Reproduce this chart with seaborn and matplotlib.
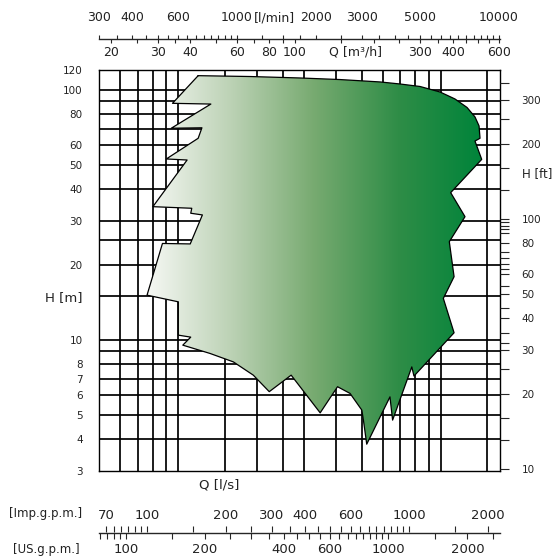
import numpy as np
import matplotlib.pyplot as plt
import seaborn as sns

sns.set_style("white")
plt.rcParams['font.family'] = ['DejaVu Sans']
TXT = '#222222'

# main field: flow in l/s, head in m
Q_MIN, Q_MAX = 5, 168
H_MIN, H_MAX = 3, 120

Q_GRID = [6, 7, 8, 9, 10, 15, 20, 25, 30, 40, 50, 60, 70, 80, 90, 100, 150]
H_GRID = [4, 5, 6, 7, 8, 9, 10, 15, 20, 25, 30, 40, 50, 60, 70, 80, 90, 100]
H_LABELS = [3, 4, 5, 6, 7, 8, 10, 20, 30, 40, 50, 60, 80, 100, 120]

# outline of the performance range
Q_FIELD = [11.9, 9.5, 13.3, 9.4, 12.3, 11.9, 9.0, 10.8, 8.0, 11.25, 11.15, 12.35,
           11.1, 8.7, 7.6, 10.0, 10.0, 11.15, 10.4, 13.2, 16.2, 19.3, 22.2, 26.9,
           34.7, 40.4, 45.1, 50.0, 50.7, 52.2, 64.0, 65.5, 77.5, 79.0, 112.3, 102.2,
           112.3, 107.7, 123.6, 109.0, 143.1, 134.9, 141.0, 139.8, 134.9, 125.8, 113.2,
           99.3, 83.3, 69.9, 58.7, 41.3, 29.1, 18.8]
H_FIELD = [113.9, 88.3, 87.7, 70.2, 70.5, 64.0, 52.9, 52.4, 34.1, 33.6, 32.1, 31.6,
           24.2, 24.3, 15.1, 14.2, 10.45, 10.26, 9.53, 8.83, 8.17, 7.23, 6.21, 7.23,
           5.11, 6.5, 6.11, 5.24, 4.78, 3.83, 5.92, 4.78, 7.80, 7.17, 10.68, 14.66,
           17.9, 24.7, 31.1, 38.8, 52.7, 62.4, 64.0, 71.7, 77.9, 85.0, 91.9,
           98.0, 103.1, 105.5, 107.5, 109.9, 111.5, 113.0]
FIELD_COLORS = ['#f6f8f4', '#bcd2b5', '#77aa70', '#2f8d47', '#00843a']

# head in feet (right)
FT_PER_M = 1 / 0.3048
FT_TICKS = [10, 13, 16, 20, 25, 30, 32, 35, 40, 44, 50, 54, 60, 63, 66, 70, 74, 80,
            88, 91, 94, 97, 100, 130, 160, 200, 250, 300, 350]
FT_LABELS = [10, 20, 30, 40, 50, 60, 80, 100, 200, 300]

# flow scales on top
MH_PER_LS = 3.6
MH_TICKS = [20, 25, 30, 35, 40, 50, 60, 70, 80, 90, 100, 150, 200, 250, 300, 350,
            400, 450, 500, 550, 600]
MH_LABELS = [20, 30, 40, 60, 80, 100, 300, 400, 600]
LPM_PER_LS = 60
LPM_TICKS = [300, 350, 400, 450, 500, 550, 600, 650, 700, 750, 800, 850, 900, 950,
             1000, 1250, 1500, 1750, 2000, 2500, 3000, 3500, 4000, 4500, 5000, 5500,
             6000, 6500, 7000, 7500, 8000, 8500, 9000, 9500, 10000]
LPM_LABELS = [300, 400, 600, 1000, 2000, 3000, 5000, 10000]

# flow scales at the bottom
IMP_PER_LS = 13.198
IMP_TICKS = [70, 75, 80, 85, 90, 95, 100, 150, 200, 250, 300, 350, 400, 450, 500,
             550, 600, 650, 700, 750, 800, 850, 900, 950, 1000, 1500, 2000]
IMP_LABELS = [70, 100, 200, 300, 400, 600, 1000, 2000]
US_PER_LS = 15.850
US_TICKS = [80, 85, 90, 95, 100, 150, 200, 250, 300, 350, 400, 450, 500, 550, 600,
            650, 700, 750, 800, 850, 900, 950, 1000, 1500, 2000, 2500]
US_LABELS = [100, 200, 400, 600, 1000, 2000]

W, H = 554, 557
fig = plt.figure(figsize=(W / 100, H / 100), dpi=100)
L, R, T, B = 99.3, 500, 70, 470.7
ax = fig.add_axes([L / W, 1 - B / H, (R - L) / W, (B - T) / H])
ax.set_xscale('log')
ax.set_yscale('log')
ax.set_xlim(Q_MIN, Q_MAX)
ax.set_ylim(H_MIN, H_MAX)

for q in Q_GRID:
    ax.axvline(q, color='black', lw=1.25, zorder=1)
for h in H_GRID:
    ax.axhline(h, color='black', lw=1.25, zorder=1)

# gradient filled field
poly = ax.fill(Q_FIELD, H_FIELD, facecolor='none', edgecolor='none')[0]
lo, hi = np.log10(Q_MIN), np.log10(Q_MAX)
x0 = (np.log10(min(Q_FIELD)) - lo) / (hi - lo)
x1 = (np.log10(max(Q_FIELD)) - lo) / (hi - lo)
cmap = sns.blend_palette(FIELD_COLORS, as_cmap=True)
im = ax.imshow(np.linspace(0, 1, 512)[None, :], cmap=cmap, aspect='auto',
               extent=(x0, x1, 0, 1), transform=ax.transAxes, zorder=2,
               interpolation='bilinear')
im.set_clip_path(poly)
sns.lineplot(x=Q_FIELD + Q_FIELD[:1], y=H_FIELD + H_FIELD[:1], sort=False,
             estimator=None, color='black', lw=0.9, ax=ax, zorder=3)
ax.set_xlim(Q_MIN, Q_MAX)
ax.set_ylim(H_MIN, H_MAX)

ax.set_xticks([])
ax.minorticks_off()
ax.set_yticks(H_LABELS, labels=[str(v) for v in H_LABELS])
ax.tick_params(axis='y', length=0, pad=12, labelsize=7.5, labelcolor=TXT)
for s in ax.spines.values():
    s.set_visible(True)
    s.set_color('black')
    s.set_linewidth(1.0)
ax.text(0.30, -0.036, 'Q [l/s]', transform=ax.transAxes, ha='center', va='center',
        fontsize=9.5, color=TXT)
ax.text(-0.043, 0.431, 'H [m]', transform=ax.transAxes, ha='right', va='center',
        fontsize=9.5, color=TXT)

# feet on the right
ax_r = ax.twinx()
ax_r.set_yscale('log')
ax_r.set_ylim(H_MIN * FT_PER_M, H_MAX * FT_PER_M)
ax_r.set_yticks(FT_TICKS, labels=[str(v) if v in FT_LABELS else '' for v in FT_TICKS])
ax_r.minorticks_off()
ax_r.tick_params(axis='y', direction='out', length=6.5, width=0.8, pad=9,
                 labelsize=7.5, labelcolor=TXT, right=True)
for s in ax_r.spines.values():
    s.set_visible(False)
ax_r.annotate('H [ft]', xy=(1, 152), xycoords=('axes fraction', 'data'),
              xytext=(15.5, 0), textcoords='offset points', ha='left', va='center',
              fontsize=8.5, color=TXT)


def flow_scale(y_px, factor, ticks, labels, side, length, pad, size=9.5):
    a = fig.add_axes([L / W, 1 - y_px / H, (R - L) / W, 0.0005])
    a.set_xscale('log')
    a.set_xlim(Q_MIN * factor, Q_MAX * factor)
    a.set_xticks(ticks, labels=[str(v) if v in labels else '' for v in ticks])
    a.minorticks_off()
    a.set_yticks([])
    a.patch.set_visible(False)
    a.tick_params(axis='x', direction='out', length=length, width=0.8, pad=pad,
                  labelsize=size, labelcolor=TXT,
                  top=(side == 'top'), labeltop=(side == 'top'),
                  bottom=(side == 'bottom'), labelbottom=(side == 'bottom'))
    for s in a.spines.values():
        s.set_visible(False)
    return a


ax_mh = flow_scale(39, MH_PER_LS, MH_TICKS, MH_LABELS, 'bottom', 3, 2.0, 9)
ax_mh.spines['bottom'].set_visible(True)
ax_mh.spines['bottom'].set_linewidth(1.0)
ax_lpm = flow_scale(39, LPM_PER_LS, LPM_TICKS, LPM_LABELS, 'top', 3, 7.5, 9)
ax_mh.annotate('Q [m\u00b3/h]', xy=(170, 0), xycoords=('data', 'axes fraction'),
               xytext=(0, -5.0), textcoords='offset points', ha='center', va='top',
               fontsize=9, color=TXT)
ax_lpm.annotate('[l/min]', xy=(1400, 1), xycoords=('data', 'axes fraction'),
                xytext=(0, 10.5), textcoords='offset points', ha='center',
                va='bottom', fontsize=9, color=TXT)

ax_us = flow_scale(532.7, US_PER_LS, US_TICKS, US_LABELS, 'bottom', 4, 3.3)
ax_us.spines['bottom'].set_visible(True)
ax_us.spines['bottom'].set_linewidth(1.0)
ax_imp = flow_scale(532.7, IMP_PER_LS, IMP_TICKS, IMP_LABELS, 'top', 4, 3.6)

fig.text(46 / W, 1 - 513 / H, '[Imp.g.p.m.]', ha='center', va='center',
         fontsize=8.5, color=TXT)
fig.text(46 / W, 1 - 549 / H, '[US.g.p.m.]', ha='center', va='center',
         fontsize=8.5, color=TXT)

fig.savefig('out.png', dpi=100)
